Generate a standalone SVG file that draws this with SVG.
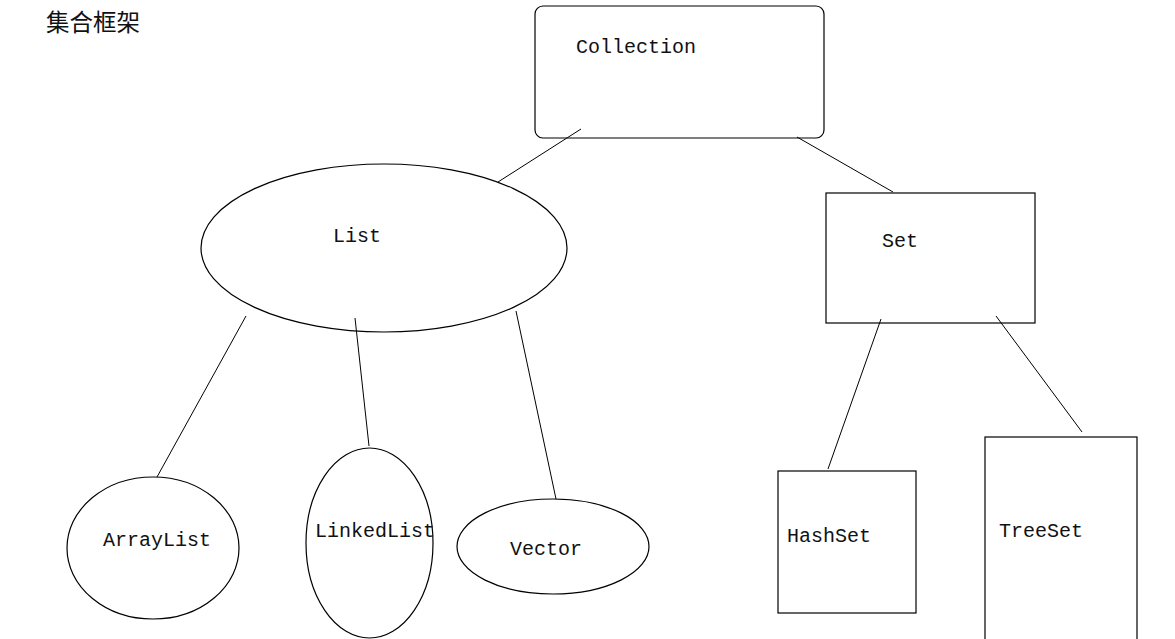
<svg xmlns="http://www.w3.org/2000/svg" width="1175" height="639" viewBox="0 0 1175 639">
<style>
.s{fill:#fff;stroke:#000;stroke-width:1.2}
.t{font-family:"Liberation Mono",monospace;font-size:20px;fill:#111}
.c line{stroke:#000;stroke-width:1}
</style>
<rect width="1175" height="639" fill="#fff"/>
<text x="46" y="31" style="font-family:'Noto Sans CJK SC',sans-serif;font-size:23.5px;fill:#111">集合框架</text>
<g id="collection"><rect class="s" x="535" y="6" width="289" height="132" rx="8"/><text class="t" x="576" y="53">Collection</text></g>
<g id="list"><ellipse class="s" cx="384" cy="248" rx="183" ry="84"/><text class="t" x="333" y="242">List</text></g>
<g id="set"><rect class="s" x="826" y="193" width="209" height="130"/><text class="t" x="882" y="247">Set</text></g>
<g id="arraylist"><ellipse class="s" cx="153" cy="548" rx="86" ry="71"/><text class="t" x="103" y="546">ArrayList</text></g>
<g id="linkedlist"><ellipse class="s" cx="369.5" cy="543" rx="63.5" ry="95"/><text class="t" x="315" y="537">LinkedList</text></g>
<g id="vector"><ellipse class="s" cx="553" cy="546.5" rx="96" ry="47.5"/><text class="t" x="510" y="555">Vector</text></g>
<g id="hashset"><rect class="s" x="778" y="471" width="138" height="142"/><text class="t" x="787" y="542">HashSet</text></g>
<g id="treeset"><rect class="s" x="985" y="437" width="152" height="210"/><text class="t" x="999" y="537">TreeSet</text></g>
<g class="c" id="connectors">
<line x1="581" y1="129" x2="498" y2="182"/>
<line x1="797" y1="137" x2="893" y2="192"/>
<line x1="246" y1="316" x2="157" y2="477"/>
<line x1="355" y1="318" x2="369" y2="446"/>
<line x1="516" y1="311" x2="556" y2="499"/>
<line x1="881" y1="319" x2="828" y2="469"/>
<line x1="996" y1="316" x2="1082" y2="432"/>
</g>
</svg>
